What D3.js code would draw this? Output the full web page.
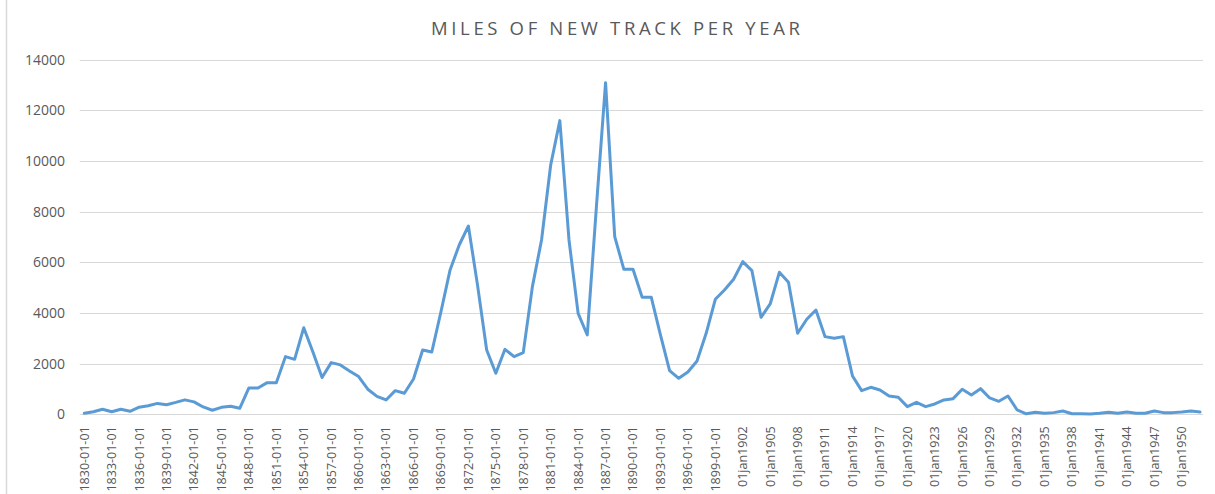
<!DOCTYPE html>
<html>
<head>
<meta charset="utf-8">
<script src="https://cdn.jsdelivr.net/npm/d3@7"></script>
<style>
  html, body { margin: 0; padding: 0; background: #fff; }
  svg { display: block; }
</style>
</head>
<body>
<svg id="chart" width="1215" height="494"></svg>
<script>
const title = "MILES OF NEW TRACK PER YEAR";
const startYear = 1830;
const miles = [
  40, 100, 200, 100, 200, 120, 280, 340, 430, 380,
  470, 570, 490, 290, 160, 276, 316, 237, 1040, 1040,
  1250, 1250, 2277, 2170, 3420, 2460, 1450, 2040, 1950, 1710,
  1490, 990, 710, 566, 934, 830, 1395, 2540, 2460, 4050,
  5700, 6685, 7435, 5100, 2540, 1620, 2566, 2277, 2435, 5040,
  6883, 9844, 11594, 6883, 3987, 3132, 8200, 13094, 7014, 5725,
  5725, 4619, 4619, 3132, 1724, 1421, 1671, 2106, 3198, 4540,
  4909, 5330, 6027, 5672, 3830, 4356, 5606, 5211, 3198, 3751,
  4119, 3066, 3000, 3066, 1513, 934, 1066, 960, 724, 671,
  303, 474, 303, 408, 566, 618, 987, 763, 1013, 645,
  513, 724, 171, 20, 79, 40, 66, 132, 20, 26,
  10, 40, 79, 40, 92, 40, 40, 132, 66, 66,
  92, 132, 92
];
const years = miles.map((_, i) => startYear + i);
const yTicks = [0, 2000, 4000, 6000, 8000, 10000, 12000, 14000];
const tickYears = years.filter(y => (y - startYear) % 3 === 0 && y <= 1950);
const tickLabels = tickYears.map(y => y < 1900 ? `${y}-01-01` : `01jan${y}`);

const svg = d3.select("#chart");
const plot = { left: 79.7, right: 1204.6, top: 59.7, bottom: 414.3 };

const x = d3.scaleBand().domain(years).range([plot.left, plot.right]);
const y = d3.scaleLinear().domain([0, 14000]).range([plot.bottom, plot.top]);
const cx = d => x(d) + x.bandwidth() / 2;

// chart-area border (left edge visible)
svg.append("line")
  .attr("x1", 6.5).attr("x2", 6.5).attr("y1", 0).attr("y2", 494)
  .attr("stroke", "#d9d9d9").attr("stroke-width", 1.5);

// title
svg.append("text")
  .attr("x", 615.5).attr("y", 35)
  .attr("text-anchor", "middle")
  .attr("font-family", "'Open Sans', sans-serif")
  .attr("font-size", 18.5)
  .attr("fill", "#595959")
  .attr("textLength", 369).attr("lengthAdjust", "spacing")
  .text(title);

// gridlines
svg.append("g")
  .selectAll("line")
  .data(yTicks.filter(t => t > 0))
  .join("line")
  .attr("x1", plot.left).attr("x2", plot.right - 1.5)
  .attr("y1", d => Math.round(y(d)) + 0.5).attr("y2", d => Math.round(y(d)) + 0.5)
  .attr("stroke", "#d9d9d9").attr("stroke-width", 1);

// y axis labels
const yAxis = d3.axisLeft(y).tickValues(yTicks).tickSize(0).tickPadding(0).tickFormat(d3.format("d"));
const gy = svg.append("g").attr("transform", `translate(65,0)`).call(yAxis);
gy.select(".domain").remove();
gy.selectAll("text")
  .attr("font-family", "'Open Sans', sans-serif")
  .attr("font-size", 14)
  .attr("fill", "#595959");

// x axis line
svg.append("line")
  .attr("x1", plot.left).attr("x2", plot.right - 1.5)
  .attr("y1", Math.round(plot.bottom) + 0.5).attr("y2", Math.round(plot.bottom) + 0.5)
  .attr("stroke", "#d9d9d9").attr("stroke-width", 1);

// x axis labels
const xAxis = d3.axisBottom(x).tickValues(tickYears).tickSize(0)
  .tickFormat((d) => tickLabels[tickYears.indexOf(d)]);
const gx = svg.append("g").attr("transform", `translate(0,${plot.bottom})`).call(xAxis);
gx.select(".domain").remove();
gx.selectAll("text")
  .attr("font-family", "'Open Sans', sans-serif")
  .attr("font-size", 12.5)
  .attr("fill", "#595959")
  .attr("text-anchor", "end")
  .attr("dy", "0.35em")
  .attr("transform", "translate(0,12) rotate(-90)")
  .attr("x", 0).attr("y", 0);

// line
const line = d3.line().x(d => cx(d.year)).y(d => y(d.value));
svg.append("path")
  .datum(years.map((yr, i) => ({ year: yr, value: miles[i] })))
  .attr("d", line)
  .attr("fill", "none")
  .attr("stroke", "#5b9bd5")
  .attr("stroke-width", 3)
  .attr("stroke-linejoin", "round")
  .attr("stroke-linecap", "round");
</script>
</body>
</html>
